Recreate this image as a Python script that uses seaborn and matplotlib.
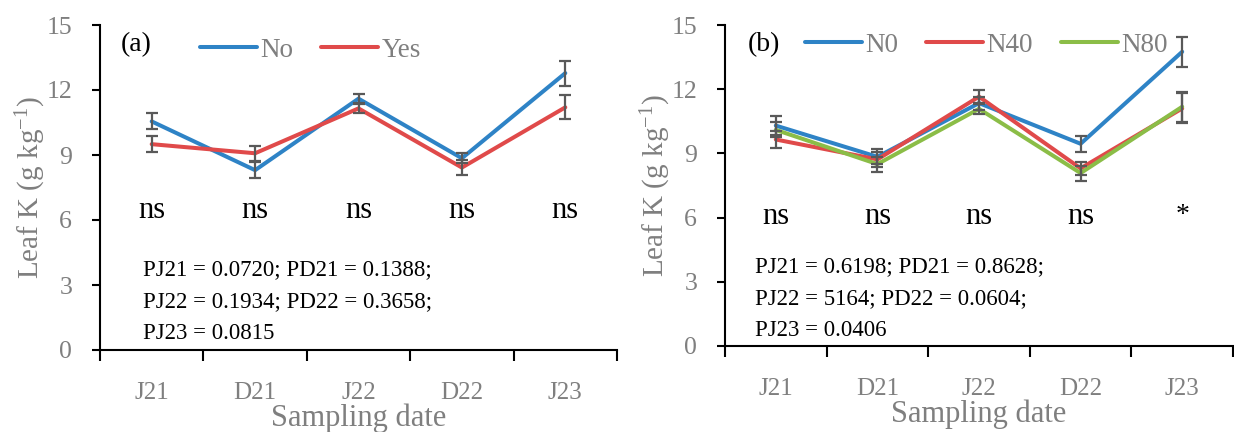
import numpy as np
import pandas as pd
import matplotlib
matplotlib.use("Agg")
import matplotlib.pyplot as plt
import seaborn as sns

# data
dates = ["J21", "D21", "J22", "D22", "J23"]

no_mean = [10.55, 8.30, 11.60, 8.85, 12.78]
no_se = [0.37, 0.38, 0.21, 0.22, 0.58]
yes_mean = [9.50, 9.08, 11.15, 8.42, 11.20]
yes_se = [0.37, 0.34, 0.20, 0.36, 0.56]

n0_mean = [10.30, 8.84, 11.35, 9.45, 13.75]
n0_se = [0.45, 0.35, 0.30, 0.38, 0.70]
n40_mean = [9.65, 8.72, 11.65, 8.30, 11.10]
n40_se = [0.40, 0.35, 0.30, 0.30, 0.70]
n80_mean = [10.10, 8.50, 11.08, 8.08, 11.18]
n80_se = [0.35, 0.35, 0.25, 0.35, 0.70]

sig_a = ["ns", "ns", "ns", "ns", "ns"]
sig_b = ["ns", "ns", "ns", "ns", "*"]

ptext_a = "PJ21 = 0.0720; PD21 = 0.1388;\nPJ22 = 0.1934; PD22 = 0.3658;\nPJ23 = 0.0815"
ptext_b = "PJ21 = 0.6198; PD21 = 0.8628;\nPJ22 = 5164; PD22 = 0.0604;\nPJ23 = 0.0406"

BLUE = "#2E83C6"
RED = "#E04A4A"
GREEN = "#8BBD47"
GREY = "#7F7F7F"
ERR = "#595959"

sns.set_style("ticks")
plt.rcParams['font.family'] = ['Liberation Serif', 'DejaVu Serif']
plt.rcParams['mathtext.fontset'] = 'custom'
plt.rcParams['mathtext.rm'] = 'Liberation Serif'
plt.rcParams['mathtext.it'] = 'Liberation Serif:italic'


def make_df(series):
    rows = []
    for name, means in series:
        for i, d in enumerate(dates):
            rows.append({"pos": i, "date": d, "group": name, "value": means[i]})
    return pd.DataFrame(rows)


def draw_panel(ax, series, ses, colors, sig, sig_y, star_y, ptext, ptext_x, tag, leg_x, leg_y):
    df = make_df(series)
    sns.lineplot(data=df, x="pos", y="value", hue="group", palette=colors,
                 linewidth=2.9, ax=ax, sort=False, zorder=2)
    for (name, means), se in zip(series, ses):
        ax.errorbar(range(len(dates)), means, yerr=se, fmt="none", ecolor=ERR,
                    elinewidth=1.6, capsize=4, capthick=1.6, zorder=3)

    ax.set_xlim(-0.5, len(dates) - 0.5)
    ax.set_ylim(0, 15)
    ax.set_yticks(np.arange(0, 16, 3))
    ax.set_xticks(np.arange(-0.5, len(dates), 1.0))
    ax.set_xticklabels([])
    ax.set_xticks(range(len(dates)), minor=True)
    ax.set_xticklabels(dates, minor=True)
    ax.tick_params(axis="x", which="major", length=8, width=1.5, direction="out", color="black")
    ax.tick_params(axis="x", which="minor", length=0, pad=23, labelsize=18, labelcolor=GREY)
    ax.tick_params(axis="y", length=6, width=1.5, direction="out", pad=14,
                   labelsize=18.5, labelcolor=GREY, color="black")
    for s in ["left", "bottom"]:
        ax.spines[s].set_linewidth(1.5)
        ax.spines[s].set_color("black")
    sns.despine(ax=ax)

    ax.set_xlabel("Sampling date", fontsize=22, color=GREY, labelpad=0)
    ax.set_ylabel("Leaf K (g kg$^{-1}$)", fontsize=21, color=GREY, labelpad=-1)

    for i, s in enumerate(sig):
        if s == "*":
            ax.text(i, star_y, s, ha="center", va="center", fontsize=20, color="black")
        else:
            ax.text(i, sig_y, s, ha="center", va="center", fontsize=22, color="black")

    ax.text(ptext_x, 0.28, ptext, transform=ax.transAxes, ha="left", va="top",
            fontsize=16.5, linespacing=1.68, color="black")
    ax.text(tag[1], 0.94, tag[0], transform=ax.transAxes, ha="left", va="center",
            fontsize=20, color="black")

    handles, labels = ax.get_legend_handles_labels()
    ax.legend(handles, labels, loc="center left", bbox_to_anchor=(leg_x, leg_y),
              frameon=False, ncol=len(labels), fontsize=19.5, handlelength=2.1,
              handletextpad=0.12, columnspacing=1.05, borderaxespad=0, borderpad=0,
              labelcolor=GREY)


fig = plt.figure(figsize=(12.34, 4.32), dpi=100)
fig.patch.set_facecolor("white")
ax_a = fig.add_axes([100 / 1234, 1 - 350 / 432, 517 / 1234, 325 / 432])
ax_b = fig.add_axes([725 / 1234, 1 - 346 / 432, 508 / 1234, 321 / 432])

draw_panel(ax_a, [("No", no_mean), ("Yes", yes_mean)], [no_se, yes_se],
           [BLUE, RED], sig_a, 6.45, 6.45, ptext_a, 0.083, ("(a)", 0.04), 0.193, 0.923)
draw_panel(ax_b, [("N0", n0_mean), ("N40", n40_mean), ("N80", n80_mean)],
           [n0_se, n40_se, n80_se], [BLUE, RED, GREEN], sig_b, 6.05, 6.1,
           ptext_b, 0.059, ("(b)", 0.045), 0.157, 0.937)

fig.savefig("out.png", dpi=100, facecolor="white")
